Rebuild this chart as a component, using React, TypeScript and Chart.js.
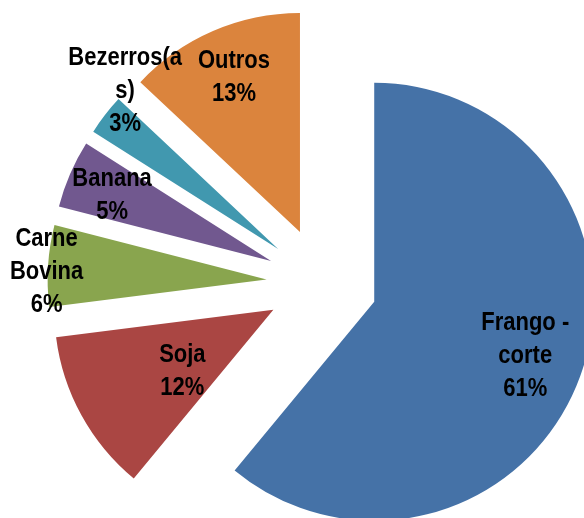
import React, { useEffect, useRef } from "react";
import { Chart, registerables } from "chart.js";

Chart.register(...registerables);

const categories: string[][] = [
  ["Frango -", "corte"],
  ["Soja"],
  ["Carne", "Bovina"],
  ["Banana"],
  ["Bezerros(a", "s)"],
  ["Outros"],
];
const values: number[] = [61, 12, 6, 5, 3, 13];
const colors: string[] = ["#4572A7", "#AA4643", "#89A54E", "#71588F", "#4198AF", "#DB843D"];

// label block centres relative to each slice's apex (px)
const labelOffsets: number[][] = [
  [151, 54],
  [-91, 62],
  [-220, -7],
  [-159, -65],
  [-153, -158],
  [-66, -154],
];
const EXPLODE = 55.5;
const RADIUS = 219;
const LINE_H = 33;
const STRETCH = 1.13;

const explodePlugin = {
  id: "explode",
  afterDatasetUpdate(chart: any, args: any) {
    const meta = args.meta;
    meta.data.forEach((el: any) => {
      const mid = (el.startAngle + el.endAngle) / 2;
      el.x = el.x + Math.cos(mid) * EXPLODE;
      el.y = el.y + Math.sin(mid) * EXPLODE;
    });
  },
};

const labelPlugin = {
  id: "sliceLabels",
  afterDatasetsDraw(chart: any) {
    const ctx = chart.ctx;
    const meta = chart.getDatasetMeta(0);
    const total = values.reduce((a, b) => a + b, 0);
    ctx.save();
    ctx.font = 'bold 22px "Liberation Sans", Arial, sans-serif';
    ctx.fillStyle = "#000000";
    ctx.textAlign = "center";
    ctx.textBaseline = "middle";
    meta.data.forEach((el: any, i: number) => {
      const lines = [...categories[i], Math.round((values[i] / total) * 100) + "%"];
      const cx = el.x + labelOffsets[i][0];
      const cy = el.y + labelOffsets[i][1];
      const top = cy - ((lines.length - 1) * LINE_H) / 2;
      lines.forEach((t, k) => {
        ctx.save();
        ctx.translate(cx, top + k * LINE_H);
        ctx.scale(1, STRETCH);
        ctx.fillText(t, 0, 0);
        ctx.restore();
      });
    });
    ctx.restore();
  },
};

export default function App() {
  const ref = useRef<HTMLCanvasElement | null>(null);
  useEffect(() => {
    if (!ref.current) return;
    const chart = new Chart(ref.current, {
      type: "pie",
      data: {
        labels: categories.map((c) => c.join(" ")),
        datasets: [
          {
            data: values,
            backgroundColor: colors,
            borderWidth: 0,
          },
        ],
      },
      options: {
        responsive: false,
        animation: false,
        devicePixelRatio: 1,
        radius: RADIUS,
        layout: { padding: { left: 60, top: 48, right: 0, bottom: 0 } },
        plugins: {
          legend: { display: false },
          tooltip: { enabled: false },
          title: { display: false },
        },
      } as any,
      plugins: [explodePlugin, labelPlugin],
    });
    return () => chart.destroy();
  }, []);
  return (
    <div style={{ position: "absolute", left: 0, top: 0, width: 584, height: 518, background: "#fff" }}>
      <canvas ref={ref} width={584} height={518} style={{ width: 584, height: 518, display: "block" }} />
    </div>
  );
}
